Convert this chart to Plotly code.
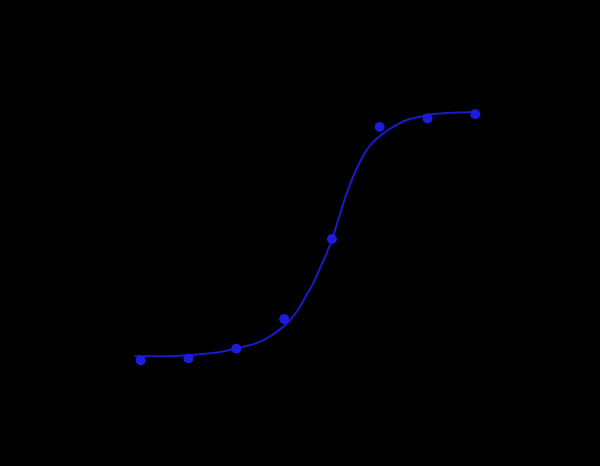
import plotly.graph_objects as go

# log10 concentration of each standard, and measured response
log_conc = [-2, -1, 0, 1, 2, 3, 4, 5]
response = [0.37, 0.39, 0.48, 0.76, 1.51, 2.56, 2.64, 2.68]

# fitted curve
fit_x = [-2.13, -1.6, -0.99, -0.76, -0.34, 0.01, 0.29, 0.5, 0.7, 0.91, 1.12,
         1.33, 1.47, 1.61, 1.75, 1.89, 2.0, 2.1, 2.21, 2.31, 2.45, 2.59, 2.73, 2.87,
         3.08, 3.29, 3.57, 3.85, 4.06, 5.02]
fit_y = [0.41, 0.41, 0.42, 0.43, 0.45, 0.485, 0.515, 0.547, 0.594, 0.66, 0.745,
         0.875, 0.984, 1.094, 1.234, 1.375, 1.50, 1.64, 1.80, 1.94, 2.10, 2.234, 2.344, 2.422,
         2.5, 2.562, 2.625, 2.656, 2.678, 2.70]

fig = go.Figure()
fig.add_trace(go.Scatter(x=fit_x, y=fit_y, mode="lines", line_shape="spline",
                         line=dict(color="#1a1acc", width=2), hoverinfo="skip"))
fig.add_trace(go.Scatter(x=log_conc, y=response, mode="markers",
                         marker=dict(color="#1c1cdc", size=10)))

fig.update_xaxes(range=[-3, 6], visible=False)
fig.update_yaxes(range=[0, 3], visible=False)
fig.update_layout(width=600, height=466, showlegend=False,
                  paper_bgcolor="black", plot_bgcolor="black",
                  margin=dict(l=93, r=77, t=80, b=66))
# drop the page's default white border
fig.write_html("out.html", config={"displayModeBar": False},
               post_script="document.body.style.margin='0';document.body.style.background='black';")
